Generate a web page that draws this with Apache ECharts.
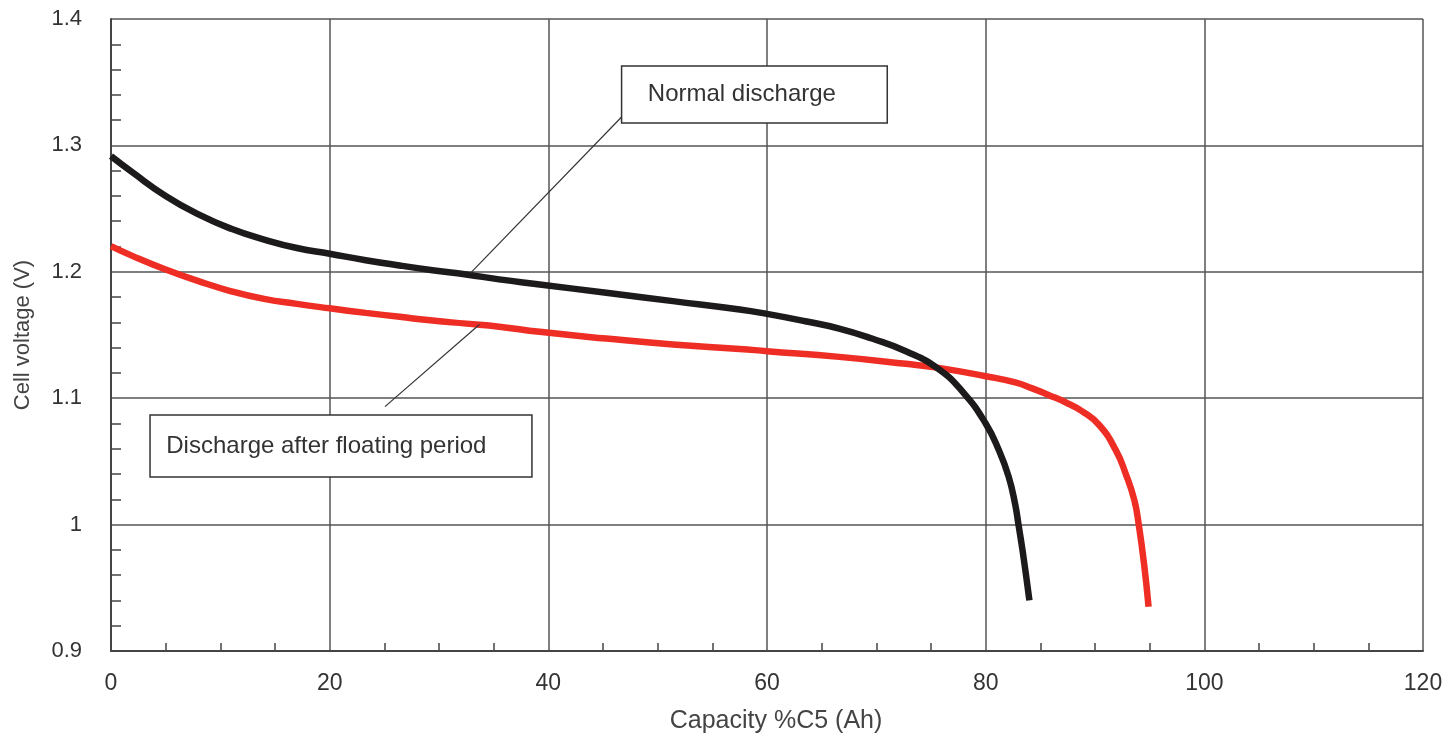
<!DOCTYPE html>
<html>
<head>
<meta charset="utf-8">
<script src="https://cdn.jsdelivr.net/npm/echarts@6/dist/echarts.min.js"></script>
<style>html,body{margin:0;padding:0;background:#fff}#c{width:1450px;height:743px}</style>
</head>
<body>
<div id="c"></div>
<script>
var xTicks = [0, 20, 40, 60, 80, 100, 120];
var yTicks = [0.9, 1.0, 1.1, 1.2, 1.3, 1.4];

var capacityNormal = [0, 2, 5, 8, 11, 14, 17, 20, 23.3, 26.4, 29.4, 32.5, 35.5, 39.2, 45.3, 51.4, 57.5, 60, 63.5, 66.6, 69.6, 72.7, 75.7, 78, 80, 81.2, 82.1, 82.7, 83.0, 83.4, 84.0];
var voltageNormal  = [1.2915, 1.2784, 1.260, 1.2454, 1.234, 1.2255, 1.2188, 1.2143, 1.2092, 1.205, 1.2013, 1.1979, 1.194, 1.190, 1.1834, 1.1768, 1.1702, 1.1667, 1.1609, 1.1551, 1.1472, 1.1372, 1.123, 1.104, 1.080, 1.059, 1.038, 1.016, 1.0, 0.978, 0.940];

var capacityFloat = [0, 2, 5, 8, 11, 14, 17, 20, 23.3, 26.4, 29.4, 32.5, 35.5, 39.2, 45.3, 51.4, 57.5, 60, 66.6, 72.7, 75.7, 80, 82.7, 84.2, 85.8, 87.3, 88.8, 90.4, 91.9, 92.8, 93.6, 94.0, 94.5, 94.9];
var voltageFloat  = [1.2203, 1.2124, 1.2018, 1.1926, 1.1846, 1.1786, 1.1746, 1.1711, 1.1675, 1.1644, 1.1614, 1.159, 1.1566, 1.1525, 1.1472, 1.1425, 1.139, 1.1372, 1.1327, 1.1272, 1.124, 1.1174, 1.1125, 1.108, 1.1024, 1.0968, 1.0898, 1.0786, 1.0589, 1.0404, 1.0193, 1.0, 0.968, 0.935];

var boxNormal = { text: 'Normal discharge', from: [46.7, 1.3628], to: [71.0, 1.3177] };
var boxFloat = { text: 'Discharge after floating period', from: [3.57, 1.0868], to: [38.5, 1.0376] };
var leaderNormal = [[46.7, 1.3225], [32.9, 1.1992]];
var leaderFloat = [[25.06, 1.0933], [33.7, 1.1583]];

function pairs(xs, ys) { return xs.map(function (x, i) { return [x, ys[i]]; }); }

var FONT = 'Liberation Sans, Arial, sans-serif';
var chart = echarts.init(document.getElementById('c'), null, { renderer: 'canvas' });
chart.setOption({
  animation: false,
  grid: { left: 111, right: 27, top: 19, bottom: 92, show: false, outerBoundsMode: 'none', containLabel: false },
  xAxis: {
    type: 'value', min: xTicks[0], max: xTicks[xTicks.length - 1], interval: 20,
    name: 'Capacity %C5 (Ah)', nameLocation: 'middle', nameGap: 58,
    nameTextStyle: { fontFamily: FONT, fontSize: 25, color: '#444', padding: [0, 0, 0, 18] },
    axisLine: { show: true, onZero: false, lineStyle: { color: '#444', width: 2 } },
    axisTick: { show: false, inside: true },
    minorTick: { show: true, splitNumber: 4, length: 8, lineStyle: { color: '#444', width: 1.5 } },
    axisLabel: { margin: 21, fontFamily: FONT, fontSize: 23, color: '#333' },
    splitLine: { show: true, lineStyle: { color: '#555', width: 1.5 } }
  },
  yAxis: {
    type: 'value', min: yTicks[0], max: yTicks[yTicks.length - 1], interval: 0.1,
    name: 'Cell voltage (V)', nameLocation: 'middle', nameGap: 77, nameRotate: 90,
    nameTextStyle: { fontFamily: FONT, fontSize: 22, color: '#444' },
    axisLine: { show: true, onZero: false, lineStyle: { color: '#444', width: 2 } },
    axisTick: { show: false, inside: true },
    minorTick: { show: true, splitNumber: 5, length: 10, lineStyle: { color: '#444', width: 1.5 } },
    axisLabel: { margin: 29, fontFamily: FONT, fontSize: 22, color: '#333', formatter: function (v) { return String(Math.round(v * 10) / 10); } },
    splitLine: { show: true, lineStyle: { color: '#555', width: 1.5 } }
  },
  series: [
    {
      name: 'Discharge after floating period', type: 'line', data: pairs(capacityFloat, voltageFloat),
      smooth: 0.5, showSymbol: false, z: 3,
      lineStyle: { color: '#ee2e24', width: 6.5, cap: 'butt' },
      markLine: {
        silent: true, symbol: 'none', label: { show: false },
        lineStyle: { color: '#333', width: 1.2, type: 'solid' },
        data: [[{ coord: leaderFloat[0] }, { coord: leaderFloat[1] }]]
      },
      markArea: {
        silent: true,
        itemStyle: { color: '#fff', borderColor: '#333', borderWidth: 1.5 },
        label: { show: true, position: 'insideLeft', distance: 17, color: '#333', fontSize: 24, fontFamily: FONT },
        data: [[{ name: boxFloat.text, coord: boxFloat.from }, { coord: boxFloat.to }]]
      }
    },
    {
      name: 'Normal discharge', type: 'line', data: pairs(capacityNormal, voltageNormal),
      smooth: 0.5, showSymbol: false, z: 4,
      lineStyle: { color: '#1c1a1a', width: 6.5, cap: 'butt' },
      markLine: {
        silent: true, symbol: 'none', label: { show: false },
        lineStyle: { color: '#333', width: 1.2, type: 'solid' },
        data: [[{ coord: leaderNormal[0] }, { coord: leaderNormal[1] }]]
      },
      markArea: {
        silent: true,
        itemStyle: { color: '#fff', borderColor: '#333', borderWidth: 1.5 },
        label: { show: true, position: 'insideLeft', distance: 27, color: '#333', fontSize: 24, fontFamily: FONT },
        data: [[{ name: boxNormal.text, coord: boxNormal.from }, { coord: boxNormal.to }]]
      }
    }
  ]
});
</script>
</body>
</html>
